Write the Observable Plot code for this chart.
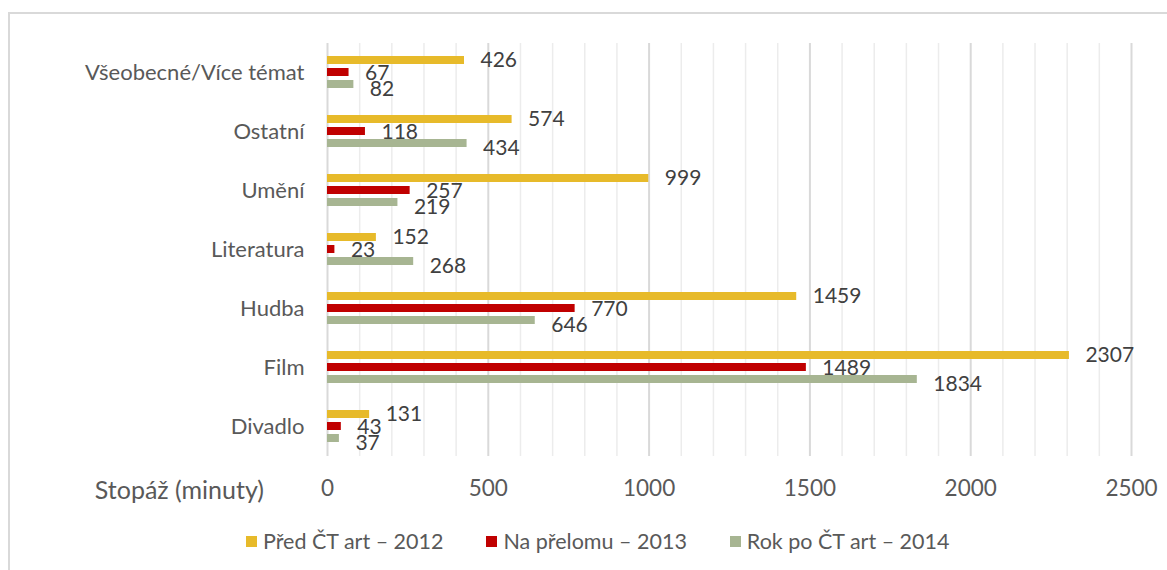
<!DOCTYPE html>
<html>
<head>
<meta charset="utf-8">
<script src="https://cdn.jsdelivr.net/npm/d3@7"></script>
<script src="https://cdn.jsdelivr.net/npm/@observablehq/plot@0.6"></script>
<style>
  html, body { margin: 0; padding: 0; background: #fff; }
  body { width: 1167px; height: 570px; position: relative; overflow: hidden; font-family: Lato, "Noto Sans", sans-serif; }
  #frame { position: absolute; left: 8px; top: 12px; right: -10px; bottom: -10px; border-left: 2px solid #d9d9d9; border-top: 2px solid #d9d9d9; }
  #chart { position: absolute; left: 0; top: 0; }
  #xlabel { position: absolute; right: 903px; top: 474px; font-size: 25px; color: #595959; white-space: nowrap; }
  #legend { position: absolute; left: 246px; top: 528px; display: flex; font-size: 21.5px; color: #595959; }
  .item { display: flex; align-items: center; margin-right: 43px; white-space: nowrap; }
  .sw { width: 11px; height: 11px; margin-right: 6px; }
</style>
</head>
<body>
<div id="frame"></div>
<div id="chart"></div>
<div id="xlabel">Stopáž (minuty)</div>
<div id="legend"></div>
<script>
const categories = ["Všeobecné/Více témat", "Ostatní", "Umění", "Literatura", "Hudba", "Film", "Divadlo"];
const seriesNames = ["Před ČT art – 2012", "Na přelomu – 2013", "Rok po ČT art – 2014"];
const values2012 = [426, 574, 999, 152, 1459, 2307, 131];
const values2013 = [67, 118, 257, 23, 770, 1489, 43];
const values2014 = [82, 434, 219, 268, 646, 1834, 37];
const colors = ["#E7BA2A", "#C00000", "#A7B592"];
const xTicks = [0, 500, 1000, 1500, 2000, 2500];

const allValues = [values2012, values2013, values2014];
const data = [];
categories.forEach((c, i) => {
  seriesNames.forEach((s, j) => {
    data.push({category: c, series: s, value: allValues[j][i]});
  });
});

const minorTicks = d3.range(0, 2501, 100).filter(v => v % 500 !== 0);
const labelDy = [0, 1, 5];

const chart = Plot.plot({
  width: 1167,
  height: 510,
  marginLeft: 327,
  marginRight: 36,
  marginTop: 41,
  marginBottom: 53,
  style: {fontFamily: "Lato, 'Noto Sans', sans-serif", fontSize: "22px", color: "#404040", background: "transparent"},
  x: {domain: [0, 2500], label: null},
  y: {domain: seriesNames, axis: null, paddingInner: 0.3, paddingOuter: 0.93},
  fy: {domain: categories, padding: 0, label: null},
  color: {domain: seriesNames, range: colors},
  marks: [
    Plot.ruleX(minorTicks, {stroke: "#ececec", strokeWidth: 1.5}),
    Plot.ruleX(xTicks, {stroke: "#d9d9d9", strokeWidth: 2}),
    Plot.barX(data, {x: "value", y: "series", fy: "category", fill: "series"}),
    ...seriesNames.map((s, j) =>
      Plot.text(data.filter(d => d.series === s), {x: "value", y: "series", fy: "category", text: d => String(d.value), textAnchor: "start", dx: 16, dy: labelDy[j], fill: "#404040", fontSize: 21})
    ),
    Plot.axisX({ticks: xTicks, tickSize: 0, tickPadding: 24, tickFormat: d => String(d), fill: "#595959", fontSize: 22.5, label: null}),
    Plot.axisFy({anchor: "left", tickSize: 0, tickPadding: 23, fill: "#595959", fontSize: 22, label: null})
  ]
});
document.getElementById("chart").appendChild(chart);

const legend = document.getElementById("legend");
seriesNames.forEach((s, j) => {
  const item = document.createElement("div");
  item.className = "item";
  const sw = document.createElement("span");
  sw.className = "sw";
  sw.style.background = colors[j];
  const t = document.createElement("span");
  t.textContent = s;
  item.appendChild(sw);
  item.appendChild(t);
  legend.appendChild(item);
});
</script>
</body>
</html>
